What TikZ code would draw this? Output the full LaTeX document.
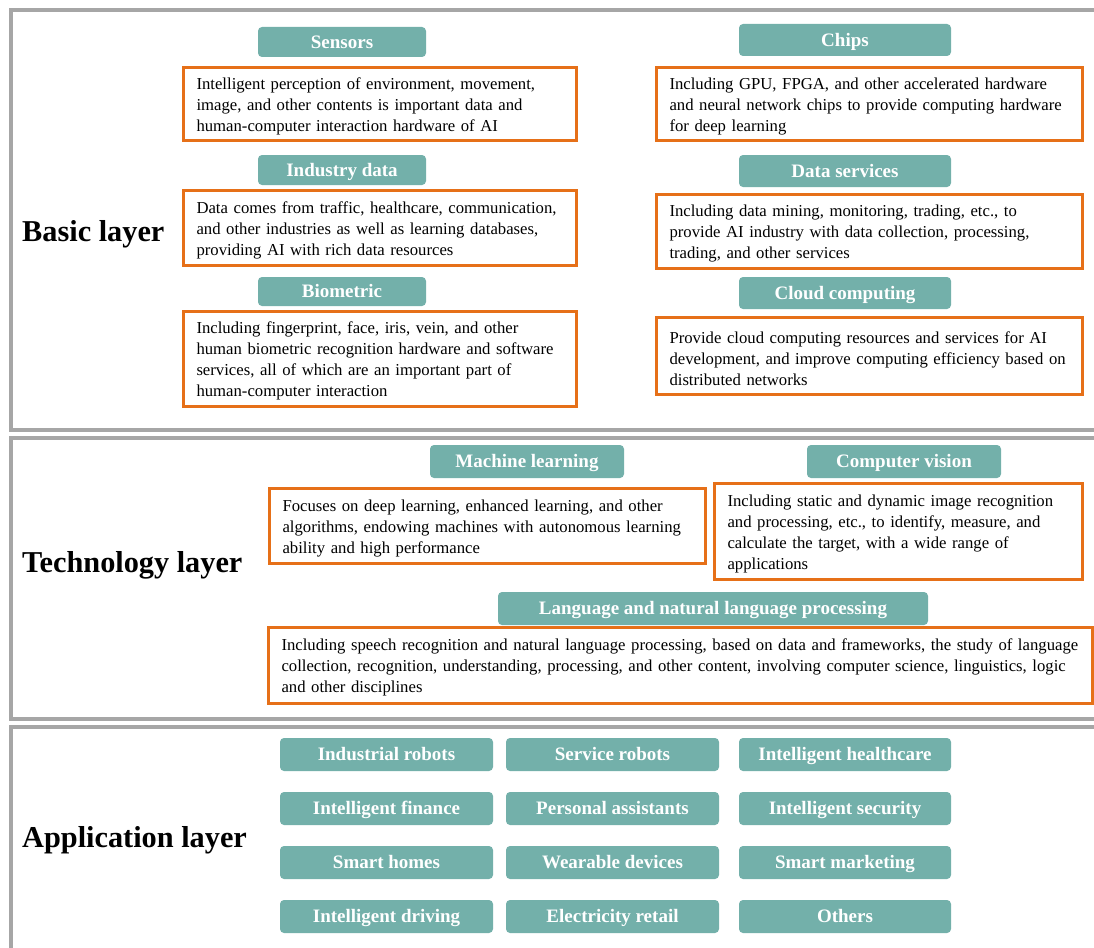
\documentclass[tikz,border=0pt]{standalone}
\usepackage{fontspec}
\setmainfont{Liberation Serif}

\definecolor{framegray}{RGB}{166,166,166}
\definecolor{headteal}{RGB}{115,176,170}
\definecolor{descorange}{RGB}{230,112,24}

\tikzset{
  layerframe/.style={draw=framegray, line width=4pt},
  headbox/.style={fill=headteal, rounded corners=4pt, text=white,
    font=\fontsize{19}{21}\selectfont\bfseries, inner sep=0pt,
    text height=12.6pt, text depth=0pt},
  descbox/.style={draw=descorange, line width=2.8pt, fill=white, align=left,
    inner xsep=13pt, inner ysep=0pt, text height=16.5pt,
    font=\fontsize{16.7}{21}\selectfont},
  layerlabel/.style={font=\fontsize{30.3}{33}\selectfont\bfseries, anchor=west, inner sep=0pt},
}

% heading box: name, x1, y1, x2, y2, text
\newcommand\headnode[6]{%
  \pgfmathsetmacro\hw{#4-#2}\pgfmathsetmacro\hh{#5-#3}%
  \node[headbox, minimum width=\hw pt, minimum height=\hh pt]
    (#1) at ({(#2+#4)/2},{(#3+#5)/2}) {#6};}

% description box: name, x1, y1, x2, y2, text
\newcommand\descnode[6]{%
  \pgfmathsetmacro\dw{#4-#2-3}\pgfmathsetmacro\dh{#5-#3-3}%
  \pgfmathsetmacro\tw{#4-#2-29}%
  \node[descbox, minimum width=\dw pt, minimum height=\dh pt, text width=\tw pt]
    (#1) at ({(#2+#4)/2},{(#3+#5)/2}) {#6};}

\begin{document}
\begin{tikzpicture}[x=1pt, y=-1pt]
\useasboundingbox (0,0) rectangle (1094,947);
\fill[white] (0,0) rectangle (1094,947);
\clip (0,0) rectangle (1094,947);

% the three layer frames
\draw[layerframe] (11,10) rectangle (1120,430);
\draw[layerframe] (11,438) rectangle (1120,719);
\draw[layerframe] (11,727) rectangle (1120,980);

% layer titles
\node[layerlabel] (basic) at (22,234.5) {Basic layer};
\node[layerlabel] (tech) at (22,565.5) {Technology layer};
\node[layerlabel] (app) at (22,840.5) {Application layer};

% basic layer, left column
\headnode{sensors}{258}{27}{426}{57}{Sensors}
\descnode{sensorsd}{182}{66}{578}{142}{Intelligent perception of environment, movement,\\ image, and other contents is important data and\\ human-computer interaction hardware of AI}
\headnode{industry}{258}{155}{426}{185}{Industry data}
\descnode{industryd}{182}{189}{578}{267}{Data comes from traffic, healthcare, communication,\\ and other industries as well as learning databases,\\ providing AI with rich data resources}
\headnode{biometric}{258}{277}{426}{306}{Biometric}
\descnode{biometricd}{182}{310}{578}{408}{Including fingerprint, face, iris, vein, and other\\ human biometric recognition hardware and software\\ services, all of which are an important part of\\ human-computer interaction}

% basic layer, right column
\headnode{chips}{739}{24}{951}{56}{Chips}
\descnode{chipsd}{655}{66}{1084}{142}{Including GPU, FPGA, and other accelerated hardware\\ and neural network chips to provide computing hardware\\ for deep learning}
\headnode{dataserv}{739}{155}{951}{187}{Data services}
\descnode{dataservd}{655}{193}{1084}{270}{Including data mining, monitoring, trading, etc., to\\ provide AI industry with data collection, processing,\\ trading, and other services}
\headnode{cloud}{739}{277}{951}{309}{Cloud computing}
\descnode{cloudd}{655}{316}{1084}{396}{Provide cloud computing resources and services for AI\\ development, and improve computing efficiency based on\\ distributed networks}

% technology layer
\headnode{ml}{430}{445}{624}{478}{Machine learning}
\descnode{mld}{268}{487}{707}{565}{Focuses on deep learning, enhanced learning, and other\\ algorithms, endowing machines with autonomous learning\\ ability and high performance}
\headnode{cv}{807}{445}{1001}{478}{Computer vision}
\descnode{cvd}{713}{482}{1084}{581}{Including static and dynamic image recognition\\ and processing, etc., to identify, measure, and\\ calculate the target, with a wide range of\\ applications}
\headnode{nlp}{498}{592}{928}{625}{Language and natural language processing}
\descnode{nlpd}{267}{626}{1094}{705}{Including speech recognition and natural language processing, based on data and frameworks, the study of language\\ collection, recognition, understanding, processing, and other content, involving computer science, linguistics, logic\\ and other disciplines}

% application layer grid
\headnode{a11}{280}{738}{493}{771}{Industrial robots}
\headnode{a12}{506}{738}{719}{771}{Service robots}
\headnode{a13}{739}{738}{951}{771}{Intelligent healthcare}
\headnode{a21}{280}{792}{493}{825}{Intelligent finance}
\headnode{a22}{506}{792}{719}{825}{Personal assistants}
\headnode{a23}{739}{792}{951}{825}{Intelligent security}
\headnode{a31}{280}{846}{493}{879}{Smart homes}
\headnode{a32}{506}{846}{719}{879}{Wearable devices}
\headnode{a33}{739}{846}{951}{879}{Smart marketing}
\headnode{a41}{280}{900}{493}{933}{Intelligent driving}
\headnode{a42}{506}{900}{719}{933}{Electricity retail}
\headnode{a43}{739}{900}{951}{933}{Others}
\end{tikzpicture}
\end{document}
